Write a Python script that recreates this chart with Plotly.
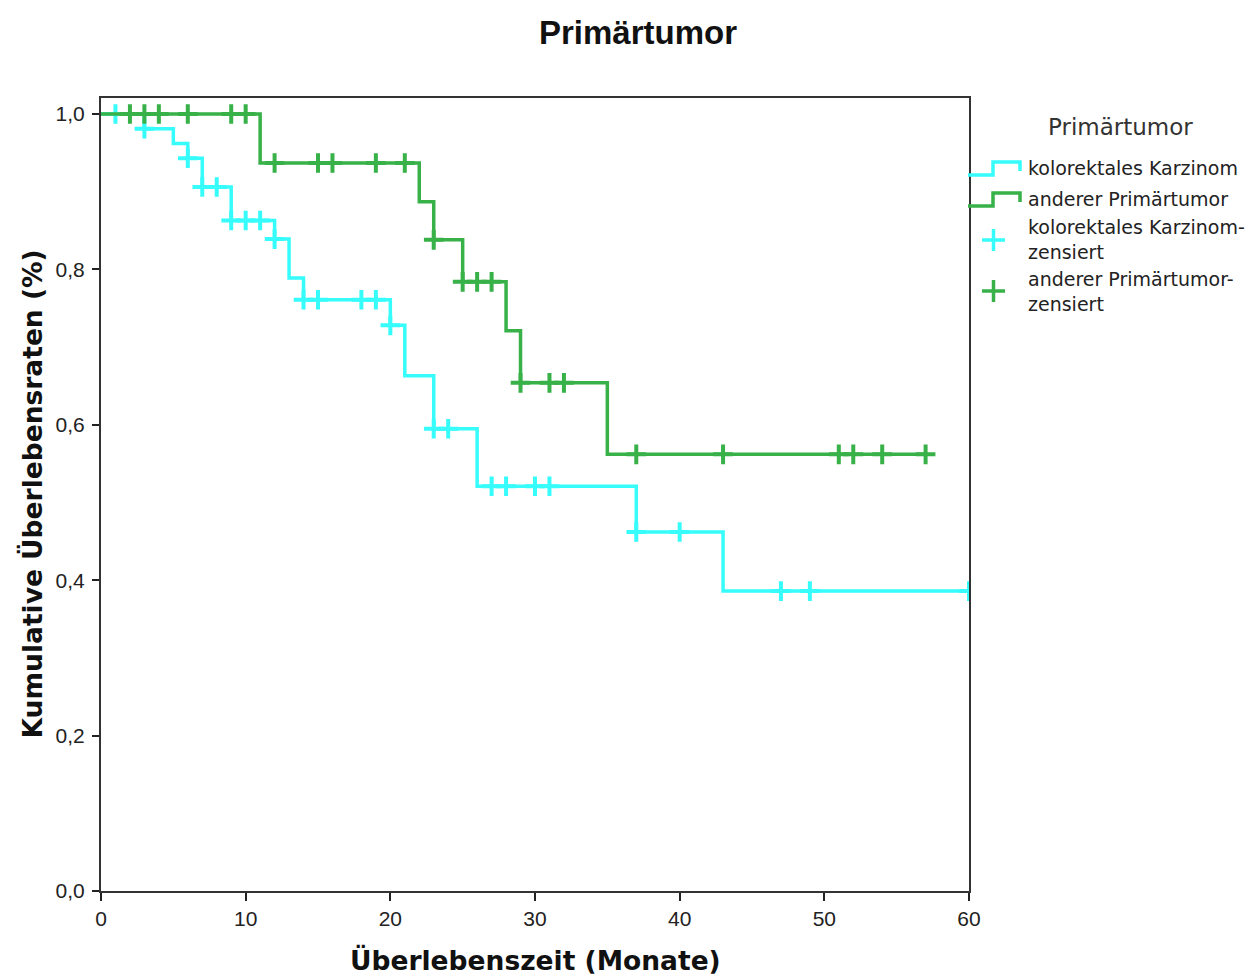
import plotly.graph_objects as go

# Kaplan-Meier estimates (step functions) and censoring times, in months
kk_event_times = [0, 3, 5, 6, 7, 9, 12, 13, 14, 20, 21, 23, 26, 37, 43, 60]
kk_survival = [1.0, 0.981, 0.962, 0.943, 0.906, 0.863, 0.839, 0.789, 0.761,
               0.728, 0.663, 0.595, 0.521, 0.462, 0.386, 0.386]
kk_censored = [1, 3, 6, 7, 8, 9, 10, 11, 12, 14, 15, 18, 19, 20, 23, 24,
               27, 28, 30, 31, 37, 40, 47, 49, 60]

ap_event_times = [0, 11, 22, 23, 25, 28, 29, 35, 57]
ap_survival = [1.0, 0.937, 0.887, 0.838, 0.784, 0.721, 0.654, 0.562, 0.562]
ap_censored = [2, 3, 4, 6, 9, 10, 12, 15, 16, 19, 21, 23, 25, 26, 27, 29,
               31, 32, 37, 43, 51, 52, 54, 57]

y_ticks = [0.0, 0.2, 0.4, 0.6, 0.8, 1.0]
y_ticktext = ["0,0", "0,2", "0,4", "0,6", "0,8", "1,0"]
x_ticks = [0, 10, 20, 30, 40, 50, 60]

legend_labels = ["kolorektales Karzinom", "anderer Primärtumor",
                 "kolorektales Karzinom-<br>zensiert", "anderer Primärtumor-<br>zensiert"]

CYAN = "#36FCFC"
GREEN = "#37B148"


def surv_at(t, times, surv):
    """Value of the step function at time t."""
    val = surv[0]
    for ti, si in zip(times, surv):
        if ti <= t:
            val = si
    return val


W, H = 1257, 976
L, R, T, B = 101, 969, 98, 891


def px(x):
    return (x - L) / (R - L)


def py(y):
    return (B - y) / (B - T)


fig = go.Figure()

for times, surv, cens, color in [
    (kk_event_times, kk_survival, kk_censored, CYAN),
    (ap_event_times, ap_survival, ap_censored, GREEN),
]:
    fig.add_trace(go.Scatter(
        x=times, y=surv, mode="lines", line=dict(color=color, width=3.5, shape="hv"),
        showlegend=False, hoverinfo="skip"))
    fig.add_trace(go.Scatter(
        x=cens, y=[surv_at(t, times, surv) for t in cens], mode="markers",
        marker=dict(symbol="cross-thin", size=14, line=dict(color=color, width=4)),
        showlegend=False, hoverinfo="skip"))

shapes = []
annotations = []

# hand-drawn legend to the right of the plot
annotations.append(dict(x=px(1120), y=py(127), xref="paper", yref="paper",
                        text="Primärtumor", showarrow=False, xanchor="center",
                        yanchor="middle", font=dict(family="DejaVu Sans", size=23, color="#333")))

for cy, color in [(168, CYAN), (199, GREEN)]:
    lo, hi = cy + 7, cy - 6
    path = (f"M {px(968)},{py(lo)} L {px(993)},{py(lo)} L {px(993)},{py(hi)} "
            f"L {px(1020)},{py(hi)} L {px(1020)},{py(hi + 9)}")
    shapes.append(dict(type="path", path=path, xref="paper", yref="paper",
                       line=dict(color=color, width=3.5)))

for cy, color in [(240, CYAN), (291, GREEN)]:
    shapes.append(dict(type="line", xref="paper", yref="paper",
                       x0=px(982), x1=px(1005), y0=py(cy), y1=py(cy),
                       line=dict(color=color, width=3.5)))
    shapes.append(dict(type="line", xref="paper", yref="paper",
                       x0=px(993.5), x1=px(993.5), y0=py(cy - 11), y1=py(cy + 11),
                       line=dict(color=color, width=3.5)))

legend_font = dict(family="DejaVu Sans", size=19, color="#222")
for label, cy in zip(legend_labels, [168, 199, 239.5, 291]):
    annotations.append(dict(x=px(1026), y=py(cy), xref="paper", yref="paper",
                            text=label, showarrow=False, xanchor="left", align="left",
                            yanchor="middle", font=legend_font))

# axis titles
title_font = dict(family="DejaVu Sans", size=26.5, color="#111")
annotations.append(dict(x=0.5, y=py(960), xref="paper", yref="paper",
                        text="<b>Überlebenszeit (Monate)</b>", showarrow=False,
                        xanchor="center", yanchor="middle", font=title_font))
annotations.append(dict(x=px(31), y=0.5, xref="paper", yref="paper",
                        text="<b>Kumulative Überlebensraten (%)</b>", showarrow=False,
                        textangle=-90, xanchor="center", yanchor="middle", font=title_font))

fig.update_layout(
    width=W, height=H,
    margin=dict(l=L, r=W - R, t=T, b=H - B, pad=0),
    paper_bgcolor="white", plot_bgcolor="white",
    title=dict(text="<b>Primärtumor</b>", x=638 / W, y=1 - 32 / H, xref="container",
               yref="container", xanchor="center", yanchor="middle",
               font=dict(family="Liberation Sans", size=33, color="#111")),
    showlegend=False,
    shapes=shapes,
    annotations=annotations,
    xaxis=dict(range=[0, 60], tickvals=x_ticks, ticks="outside", ticklen=8,
               tickwidth=2, tickcolor="#222", showline=True, linecolor="#333",
               linewidth=2, mirror=True, showgrid=False, zeroline=False,
               tickfont=dict(family="Liberation Sans", size=21, color="#222")),
    yaxis=dict(range=[0, (B - T) / (B - 114)], tickvals=y_ticks, ticktext=y_ticktext,
               ticks="outside", ticklen=7, tickwidth=2, tickcolor="#222",
               showline=True, linecolor="#333", linewidth=2, mirror=True,
               showgrid=False, zeroline=False, ticklabelstandoff=3,
               tickfont=dict(family="Liberation Sans", size=21, color="#222")),
)

fig.write_html("out.html")
